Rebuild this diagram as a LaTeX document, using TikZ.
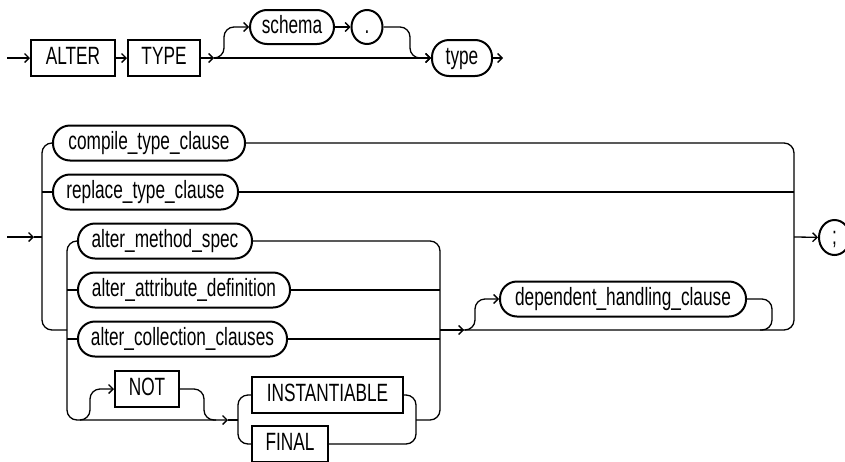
\documentclass[tikz,border=0pt]{standalone}
\usepackage{fontspec}
\setmainfont[FakeStretch=0.69]{Liberation Sans}
\usetikzlibrary{arrows.meta,shapes.geometric}
\begin{document}
\begin{tikzpicture}[x=1pt,y=-1pt,line width=1.3pt,
  arr/.style={-{Straight Barb[length=4.5pt,width=9pt]}},
  lbl/.style={font=\fontsize{25}{29}\selectfont, text height=18pt, text depth=5pt, inner sep=0pt},
  tbox/.style={lbl, draw, rectangle, line width=2pt, minimum height=36pt},
  ntbox/.style={lbl, draw, rectangle, rounded corners=17pt, line width=2pt, minimum height=35pt},
  circ/.style={lbl, draw, ellipse, line width=2pt, minimum width=31pt, minimum height=35pt},
  rc/.style={rounded corners=10pt}]
\useasboundingbox (0,0) rectangle (845,461);

% ---------- first diagram ----------
\node[tbox, minimum width=84pt] (alter) at (73,58) {ALTER};
\node[tbox, minimum width=72pt] (typekw) at (164,58) {TYPE};
\node[ntbox, minimum width=84pt, minimum height=34pt] (schema) at (292,27) {schema};
\node[circ, minimum height=34pt] (dot) at (367,27) {.};
\node[ntbox, minimum width=60pt, minimum height=36pt] (type) at (462,58) {type};
\coordinate (t0) at (7,58);
\coordinate (tb) at (214,58);
\coordinate (tend) at (503,58);

\draw[arr] (t0) -- (alter);
\draw[arr] (alter) -- (typekw);
\draw[arr] (typekw) -- (tb);
\draw[arr] (tb) -- (type);
\draw[arr, rc] (tb) -- (224,58) -- (224,27) -- (schema);
\draw[arr] (schema) -- (dot);
\draw[arr, rc] (dot) -- (410,27) -- (410,58) -- (type);
\draw[arr] (type) -- (tend);

% ---------- second diagram ----------
\node[ntbox, minimum width=192pt] (compile) at (149,143) {compile\_type\_clause};
\node[ntbox, minimum width=185pt] (replace) at (145.5,192) {replace\_type\_clause};
\node[ntbox, minimum width=174pt] (amethod) at (165,241) {alter\_method\_spec};
\node[ntbox, minimum width=212pt] (aattr) at (184,290) {alter\_attribute\_definition};
\node[ntbox, minimum width=209pt] (acoll) at (182.5,339) {alter\_collection\_clauses};
\node[tbox, minimum width=64pt] (not) at (147,389) {NOT};
\node[tbox, minimum width=151pt] (inst) at (327.5,395) {INSTANTIABLE};
\node[tbox, minimum width=76pt] (final) at (290,444) {FINAL};
\node[ntbox, minimum width=246pt] (dep) at (623,299) {dependent\_handling\_clause};
\node[circ] (semi) at (834.5,237.5) {;};

\coordinate (s0) at (7,237);
\coordinate (sa) at (34,237);
\coordinate (sL) at (42,237);
\coordinate (ia) at (228,420);
\coordinate (iL) at (238,420);
\coordinate (ba) at (464,330);
\coordinate (sR) at (794,237);

% entry
\draw[arr] (s0) -- (sa);
\draw (sa) -- (sL);
% outer left rail
\draw[rc] (compile.west) -- (42,143) -- (42,330) -- (67,330);
\draw (42,192) -- (replace.west);
% inner left rail
\draw[arr, rc] (amethod.west) -- (67,241) -- (67,420) -- (ia);
\draw (ia) -- (iL);
\draw (67,290) -- (aattr.west);
\draw (67,339) -- (acoll.west);
% NOT branch
\draw[arr, rc] (80,420) -- (90,420) -- (90,389) -- (not.west);
\draw[rc] (not.east) -- (204,389) -- (204,420) -- (216,420);
% INSTANTIABLE / FINAL
\draw[rc] (inst.west) -- (238,395) -- (238,444) -- (final.west);
\draw[rc] (inst.east) -- (416,395) -- (416,444) -- (final.east);
% inner right rail
\draw[rc] (amethod.east) -- (440,241) -- (440,420) -- (416,420);
\draw (aattr.east) -- (440,290);
\draw (acoll.east) -- (440,339);
% outer right rail
\draw[rc] (compile.east) -- (794,143) -- (794,330) -- (440,330);
\draw (replace.east) -- (794,192);
\draw[arr] (440,330) -- (ba);
% dependent_handling_clause
\draw[arr, rc] (465,330) -- (475,330) -- (475,299) -- (dep.west);
\draw[rc] (dep.east) -- (772,299) -- (772,330) -- (760,330);
% exit
\draw[arr] (sR) -- (semi);
\end{tikzpicture}
\end{document}
